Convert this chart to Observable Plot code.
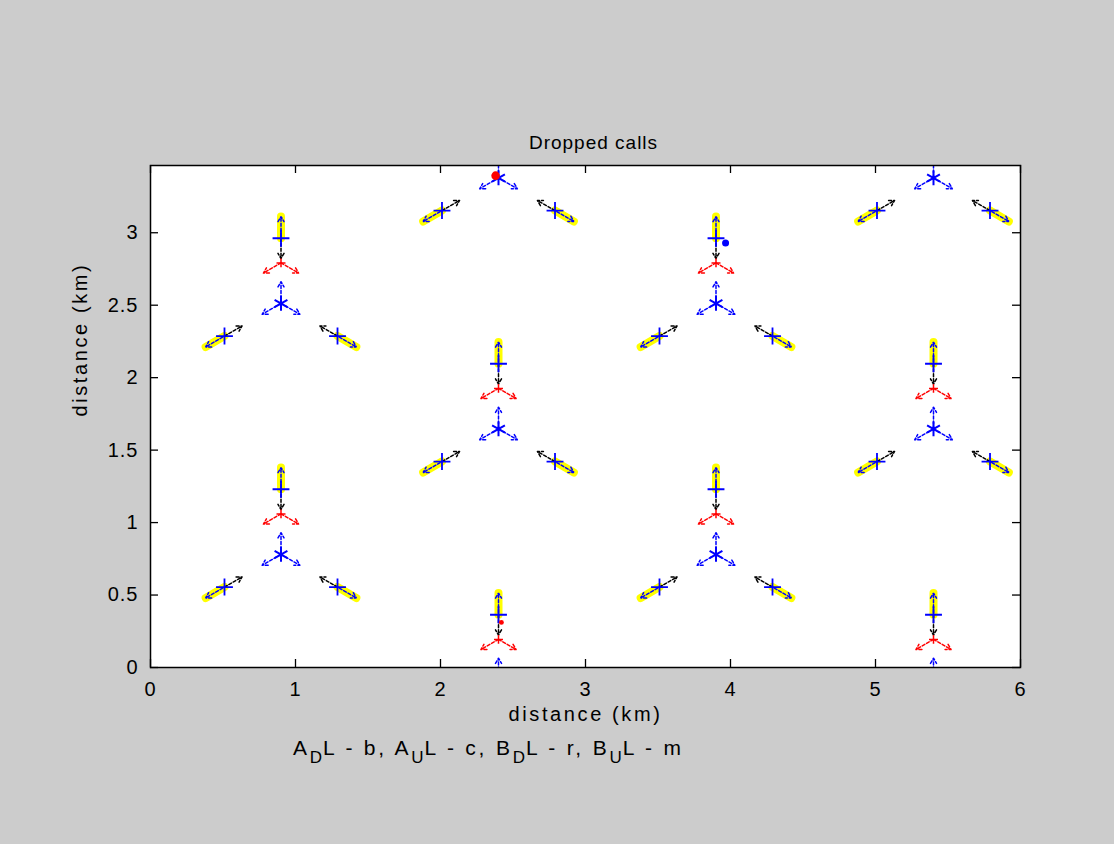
<!DOCTYPE html>
<html>
<head>
<meta charset="utf-8">
<script src="https://cdn.jsdelivr.net/npm/d3@7"></script>
<script src="https://cdn.jsdelivr.net/npm/@observablehq/plot@0.6"></script>
<style>
  html, body { margin: 0; padding: 0; background: #cccccc; }
  #wrap { position: relative; width: 1114px; height: 844px; }
  #caption {
    position: absolute; left: 293px; top: 736px;
    font-family: "Liberation Sans", Arial, sans-serif; font-size: 21px;
    letter-spacing: 2.8px; color: #000; white-space: nowrap;
  }
  #caption sub { font-size: 17px; vertical-align: -8px; line-height: 0; letter-spacing: 1px; }
</style>
</head>
<body>
<div id="wrap"></div>
<script>
// ---- data (km) ----
const titleText = "Dropped calls";
const xLabel = "distance (km)";
const yLabel = "distance (km)";
const xTicks = [0, 1, 2, 3, 4, 5, 6];
const yTicks = [0, 0.5, 1, 1.5, 2, 2.5, 3];
const xDomain = [0, 6];
const yDomain = [0, 3.464];

// base-station sites (blue asterisks)
const siteX = [0.9, 3.9, 2.4, 5.4, 0.9, 3.9, 2.4, 5.4, 2.4, 5.4];
const siteY = [0.78, 0.78, 1.646, 1.646, 2.512, 2.512, 3.378, 3.378, -0.086, -0.086];
// sector directions (degrees)
const sectorAngles = [90, 210, 330];
// radial distances along each sector (km)
const centerArrowLen = 0.15;   // blue arrows from site
const plusDist = 0.45;          // blue "+" (mobile) position
const outerTip = 0.60;          // blue arrow tip / yellow end
const innerTip = 0.31;          // black arrow tip (towards site)
const redDist = 0.28;           // red point above site (up sector)
const redAngles = [210, 330];
const redLen = 0.14;

// isolated dropped-call points
const redDotX = [2.38, 2.42];
const redDotY = [3.394, 0.311];
const redDotR = [4, 1.3];
const blueDotX = [3.966];
const blueDotY = [2.93];

// ---- build geometry ----
const rad = a => a * Math.PI / 180;
const pt = (sx, sy, a, d) => [sx + d * Math.cos(rad(a)), sy + d * Math.sin(rad(a))];
const sites = siteX.map((x, i) => ({x, y: siteY[i]}));
const centerArrows = [], yellow = [], outArrows = [], pluses = [], blackArrows = [], redArrows = [], redCenters = [];
for (const s of sites) {
  for (const a of sectorAngles) {
    const [cx, cy] = pt(s.x, s.y, a, centerArrowLen);
    centerArrows.push({x1: s.x, y1: s.y, x2: cx, y2: cy});
    const [px, py] = pt(s.x, s.y, a, plusDist);
    const [ox, oy] = pt(s.x, s.y, a, outerTip);
    const [ix, iy] = pt(s.x, s.y, a, innerTip);
    const [p0x, p0y] = pt(s.x, s.y, a, plusDist - 0.02);
    yellow.push({x1: px, y1: py, x2: ox, y2: oy});
    outArrows.push({x1: p0x, y1: p0y, x2: ox, y2: oy});
    pluses.push({x: px, y: py});
    blackArrows.push({x1: px, y1: py, x2: ix, y2: iy});
  }
  const [rx, ry] = pt(s.x, s.y, 90, redDist);
  redCenters.push({x: rx, y: ry});
  for (const a of redAngles) {
    const [tx, ty] = pt(rx, ry, a, redLen);
    redArrows.push({x1: rx, y1: ry, x2: tx, y2: ty});
  }
}
const redDots = redDotX.map((x, i) => ({x, y: redDotY[i], r: redDotR[i]}));
const blueDots = blueDotX.map((x, i) => ({x, y: blueDotY[i]}));

const W = 1114, H = 844, ML = 150, MR = 94, MT = 165, MB = 177;
const FW = W - ML - MR, FH = H - MT - MB, TL = 8;
const font = "Liberation Sans, Arial, sans-serif";
const arrowOpts = {x1: "x1", y1: "y1", x2: "x2", y2: "y2", headLength: 6, strokeWidth: 1.5, strokeDasharray: "3,2", clip: true};

const chart = Plot.plot({
  width: W, height: H,
  marginLeft: ML, marginRight: MR, marginTop: MT, marginBottom: MB,
  x: {domain: xDomain},
  y: {domain: yDomain},
  style: {background: "#cccccc", fontFamily: font, color: "#000", overflow: "visible"},
  marks: [
    Plot.frame({fill: "white", stroke: "none"}),
    Plot.link(yellow, {x1: "x1", y1: "y1", x2: "x2", y2: "y2", stroke: "#ffff00", strokeWidth: 8, strokeLinecap: "round", clip: true}),
    Plot.arrow(centerArrows, {...arrowOpts, stroke: "#0000ff"}),
    Plot.arrow(outArrows, {...arrowOpts, stroke: "#0000ff"}),
    Plot.arrow(blackArrows, {...arrowOpts, stroke: "#000000"}),
    Plot.arrow(redArrows, {...arrowOpts, stroke: "#ff0000"}),
    Plot.dot(redCenters, {x: "x", y: "y", symbol: "plus", r: 3, stroke: "#ff0000", strokeWidth: 1.5, clip: true}),
    Plot.dot(pluses, {x: "x", y: "y", symbol: "plus", r: 5.5, stroke: "#0000ff", strokeWidth: 1.8, clip: true}),
    Plot.dot(sites, {x: "x", y: "y", symbol: "asterisk", r: 7, stroke: "#0000ff", strokeWidth: 2, clip: true}),
    Plot.dot(redDots, {x: "x", y: "y", r: "r", fill: "#ff0000", stroke: "none", clip: true}),
    Plot.dot(blueDots, {x: "x", y: "y", r: 3.5, fill: "#0000ff", stroke: "none", clip: true}),
    Plot.frame({stroke: "#000", strokeWidth: 1.5}),
    // inward ticks on all four sides
    Plot.ruleX(xTicks, {x: d => d, insetTop: FH - TL, stroke: "#000", strokeWidth: 1.3}),
    Plot.ruleX(xTicks, {x: d => d, insetBottom: FH - TL, stroke: "#000", strokeWidth: 1.3}),
    Plot.ruleY(yTicks, {y: d => d, insetRight: FW - TL, stroke: "#000", strokeWidth: 1.3}),
    Plot.ruleY(yTicks, {y: d => d, insetLeft: FW - TL, stroke: "#000", strokeWidth: 1.3}),
    Plot.axisX({anchor: "bottom", ticks: xTicks, tickSize: 0, tickPadding: 14, label: null, fontSize: 20, tickFormat: d => String(d)}),
    Plot.axisY({anchor: "left", ticks: yTicks, tickSize: 0, tickPadding: 12, label: null, fontSize: 20, tickFormat: d => String(d)}),
    Plot.text([xLabel], {frameAnchor: "bottom", dy: 53, text: d => d, fontSize: 20}),
    Plot.text([yLabel], {frameAnchor: "left", dx: -70, rotate: -90, text: d => d, fontSize: 20}),
    Plot.text([titleText], {frameAnchor: "top", dy: -30, dx: 8, text: d => d, fontSize: 19})
  ]
});

// MATLAB-style wide letter spacing
d3.select(chart).selectAll("text").each(function() {
  const t = this.textContent;
  if (t === xLabel) this.setAttribute("letter-spacing", "2.6");
  else this.setAttribute("letter-spacing", "1");
});

const wrap = document.getElementById("wrap");
wrap.appendChild(chart);
const cap = document.createElement("div");
cap.id = "caption";
cap.innerHTML = "A<sub>D</sub>L - b, A<sub>U</sub>L - c, B<sub>D</sub>L - r, B<sub>U</sub>L - m";
wrap.appendChild(cap);
</script>
</body>
</html>
